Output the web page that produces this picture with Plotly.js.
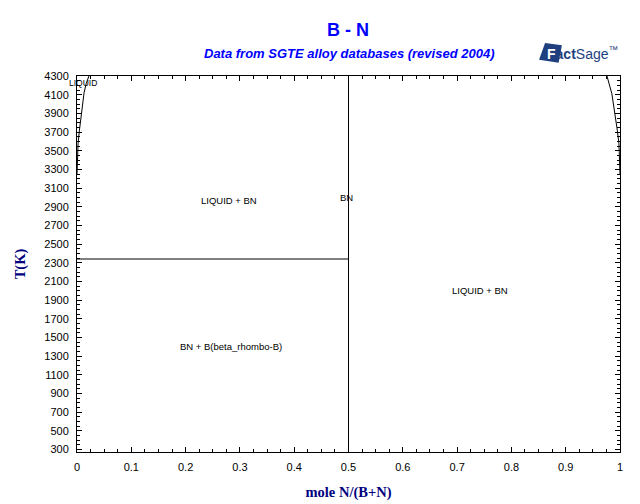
<!DOCTYPE html>
<html>
<head>
<meta charset="utf-8">
<script src="https://cdn.plot.ly/plotly-3.0.1.min.js"></script>
<style>html,body{margin:0;padding:0;background:#fff;}#chart{width:640px;height:504px;}</style>
</head>
<body>
<div id="chart"></div>
<script>
// Phase boundary data (mole fraction N, temperature K)
var liqLeftX = [0, 0.0005, 0.002, 0.0045, 0.0075, 0.010, 0.013, 0.017, 0.022];
var liqLeftT = [3250, 3400, 3580, 3720, 3860, 3990, 4120, 4220, 4300];
var liqRightX = [1, 0.9995, 0.998, 0.995, 0.991, 0.985, 0.976];
var liqRightT = [3250, 3400, 3580, 3720, 3900, 4110, 4300];
var bnX = [0.5, 0.5];
var bnT = [273, 4300];
var eutX = [0, 0.5];
var eutT = [2340, 2340];

var labelText = ["LIQUID", "LIQUID + BN", "BN", "LIQUID + BN", "BN + B(beta_rhombo-B)"];
var labelX = [0.011, 0.28, 0.497, 0.742, 0.283];
var labelT = [4225, 2970, 3000, 2000, 1400];

var lineStyle = {color: '#000', width: 1};
var traces = [
  {x: liqLeftX, y: liqLeftT, mode: 'lines', line: lineStyle, hoverinfo: 'skip'},
  {x: liqRightX, y: liqRightT, mode: 'lines', line: lineStyle, hoverinfo: 'skip'},
  {x: bnX, y: bnT, mode: 'lines', line: lineStyle, hoverinfo: 'skip'},
  {x: eutX, y: eutT, mode: 'lines', line: lineStyle, hoverinfo: 'skip'}
];

var sans = 'Liberation Sans, Arial, sans-serif';
var serif = 'Liberation Serif, Times New Roman, serif';
var annotations = labelText.map(function (t, i) {
  return {x: labelX[i], y: labelT[i], xref: 'x', yref: 'y', text: t, showarrow: false,
    xanchor: 'center', yanchor: 'middle',
    font: {family: sans, size: i === 0 ? 8.5 : 9.5, color: '#000'}};
});
annotations.push({xref: 'paper', yref: 'paper', x: 0.499, y: 1.122, xanchor: 'center', yanchor: 'middle',
  text: '<b>B - N</b>', showarrow: false, font: {family: sans, size: 18, color: '#0000ff'}});
annotations.push({xref: 'paper', yref: 'paper', x: 0.5, y: 1.061, xanchor: 'center', yanchor: 'middle',
  text: '<b><i>Data from SGTE alloy databases (revised 2004)</i></b>', showarrow: false,
  font: {family: sans, size: 13, color: '#0000ff'}});
annotations.push({xref: 'paper', yref: 'paper', x: 0.861, y: 1.06, xanchor: 'left', yanchor: 'middle',
  text: '<b><span style="color:#ffffff">F</span>act</b>Sage<sup>™</sup>', showarrow: false,
  font: {family: sans, size: 14, color: '#1f3f7f'}});

var layout = {
  width: 640, height: 504,
  margin: {l: 77, r: 20, t: 76, b: 52},
  paper_bgcolor: '#fff', plot_bgcolor: '#fff',
  showlegend: false,
  xaxis: {
    range: [0, 1], tick0: 0, dtick: 0.1, ticks: 'inside', ticklen: 5, tickcolor: '#000',
    showline: true, linecolor: '#000', linewidth: 1, mirror: 'allticks', showgrid: false, zeroline: false,
    minor: {dtick: 0.025, ticks: 'inside', ticklen: 3, tickcolor: '#000', showgrid: false},
    ticklabelstandoff: 5,
    tickfont: {family: sans, size: 11, color: '#000'},
    title: {text: '<b>mole N/(B+N)</b>', standoff: 14, font: {family: serif, size: 14.5, color: '#000080'}}
  },
  yaxis: {
    range: [273, 4300], tick0: 300, dtick: 200, ticks: 'inside', ticklen: 5, tickcolor: '#000',
    showline: true, linecolor: '#000', linewidth: 1, mirror: 'allticks', showgrid: false, zeroline: false,
    minor: {dtick: 50, ticks: 'inside', ticklen: 3, tickcolor: '#000', showgrid: false},
    ticklabelstandoff: 5,
    tickfont: {family: sans, size: 11, color: '#000'},
    title: {text: '<b>T(K)</b>', standoff: 15, font: {family: serif, size: 14.5, color: '#000080'}}
  },
  annotations: annotations,
  shapes: [
    {type: 'path', xref: 'paper', yref: 'paper',
     path: 'M 0.862 1.088 L 0.893 1.082 L 0.887 1.035 L 0.851 1.043 Z',
     fillcolor: '#1f3f7f', line: {width: 0}, layer: 'below'}
  ]
};

Plotly.newPlot('chart', traces, layout, {displayModeBar: false, staticPlot: true});
</script>
</body>
</html>
